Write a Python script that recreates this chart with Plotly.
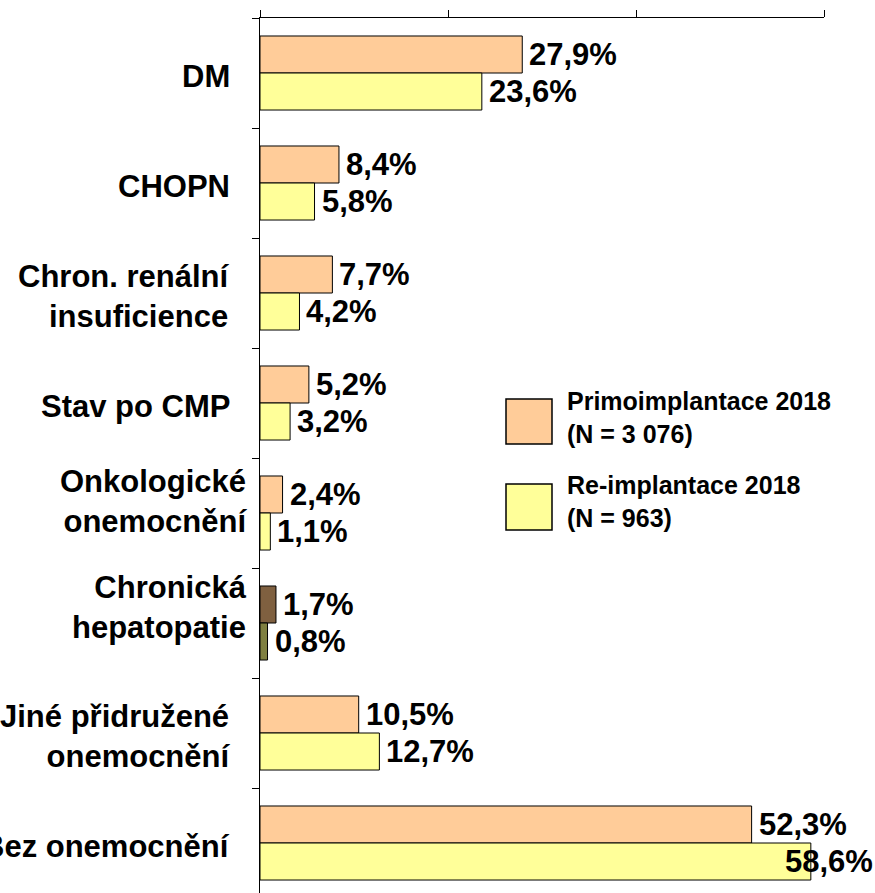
import plotly.graph_objects as go

# Comorbidities, percentage of patients
categories = [
    "DM",
    "CHOPN",
    "Chron. renální<br>insuficience",
    "Stav po CMP",
    "Onkologické<br>onemocnění",
    "Chronická<br>hepatopatie",
    "Jiné přidružené<br>onemocnění",
    "Bez onemocnění",
]
primo_2018 = [27.9, 8.4, 7.7, 5.2, 2.4, 1.7, 10.5, 52.3]
reimpl_2018 = [23.6, 5.8, 4.2, 3.2, 1.1, 0.8, 12.7, 58.6]
series_names = ["Primoimplantace 2018<br>(N = 3 076)", "Re-implantace 2018<br>(N = 963)"]
x_ticks = [0, 20, 40, 60]

# Styling
W, H = 875, 893
ML, MR, MT, MB = 260, 51, 18, 0
X_MAX = 60
BAND_PX = 110
BARGAP = 0.327
FONT = "Liberation Sans, Arial, sans-serif"
PEACH, YELLOW = "#FFCC99", "#FFFF99"
BROWN, OLIVE = "#7F6040", "#7F7F40"

primo_colors = [BROWN if c.startswith("Chronická") else PEACH for c in categories]
reimpl_colors = [OLIVE if c.startswith("Chronická") else YELLOW for c in categories]

plot_h = H - MT - MB
n_visible = plot_h / BAND_PX

fig = go.Figure()
fig.add_trace(go.Bar(y=categories, x=primo_2018, orientation="h", name=series_names[0],
                     marker=dict(color=primo_colors, line=dict(color="black", width=1)),
                     showlegend=False))
fig.add_trace(go.Bar(y=categories, x=reimpl_2018, orientation="h", name=series_names[1],
                     marker=dict(color=reimpl_colors, line=dict(color="black", width=1)),
                     showlegend=False))

# value labels next to each bar
bar_px = BAND_PX * (1 - BARGAP) / 2
label_font = dict(family=FONT, size=31, color="black", weight="bold")
x_overrides = {("re", "Bez onemocnění"): -28}
for key, vals, sign in (("primo", primo_2018, 1), ("re", reimpl_2018, -1)):
    for cat, v in zip(categories, vals):
        fig.add_annotation(x=v, y=cat, xref="x", yref="y",
                           text=f"{v:.1f}%".replace(".", ","),
                           showarrow=False, xanchor="left", yanchor="middle",
                           xshift=x_overrides.get((key, cat), 5),
                           yshift=sign * bar_px / 2,
                           font=label_font)

# category labels left of the axis
cat_font = dict(family=FONT, size=31, color="black", weight="bold")
cat_shift = {"Onkologické<br>onemocnění": (-11, 12), "Chronická<br>hepatopatie": (-11, 16)}
for cat in categories:
    dx, dy = cat_shift.get(cat, (-28, -3))
    fig.add_annotation(x=0, y=cat, xref="paper", yref="y", text=cat,
                       showarrow=False, xanchor="right", yanchor="middle",
                       align="right", xshift=dx, yshift=dy, font=cat_font)

# legend drawn as boxes with text
def px_x(p):
    return (p - ML) / (W - ML - MR)

def px_y(p):
    return 1 - (p - MT) / plot_h

legend_items = [(series_names[0], PEACH, 399, 444, 418), (series_names[1], YELLOW, 484, 530, 501)]
for text, color, top, bottom, mid in legend_items:
    fig.add_shape(type="rect", xref="paper", yref="paper",
                  x0=px_x(506), x1=px_x(552), y0=px_y(bottom), y1=px_y(top),
                  fillcolor=color, line=dict(color="black", width=1.5))
    fig.add_annotation(x=px_x(565), y=px_y(mid), xref="paper", yref="paper",
                       text=text, showarrow=False, xanchor="left", yanchor="middle",
                       align="left", font=dict(family=FONT, size=25, color="black", weight="bold"))

fig.update_layout(
    width=W, height=H,
    margin=dict(l=ML, r=MR, t=MT, b=MB, pad=0),
    paper_bgcolor="white", plot_bgcolor="white",
    barmode="group", bargap=BARGAP, bargroupgap=0,
    showlegend=False,
    xaxis=dict(range=[0, X_MAX], side="top", tickvals=x_ticks, showticklabels=False,
               ticks="outside", ticklen=7, tickcolor="black", showline=True,
               linecolor="black", linewidth=1, showgrid=False, zeroline=False),
    yaxis=dict(type="category", categoryorder="array", categoryarray=categories,
               range=[-0.5 + n_visible, -0.5], showticklabels=False,
               ticks="outside", ticklen=7, tickcolor="black", tickson="boundaries",
               showline=True, linecolor="black", linewidth=1, showgrid=False,
               zeroline=False),
)

fig.write_html("out.html")
